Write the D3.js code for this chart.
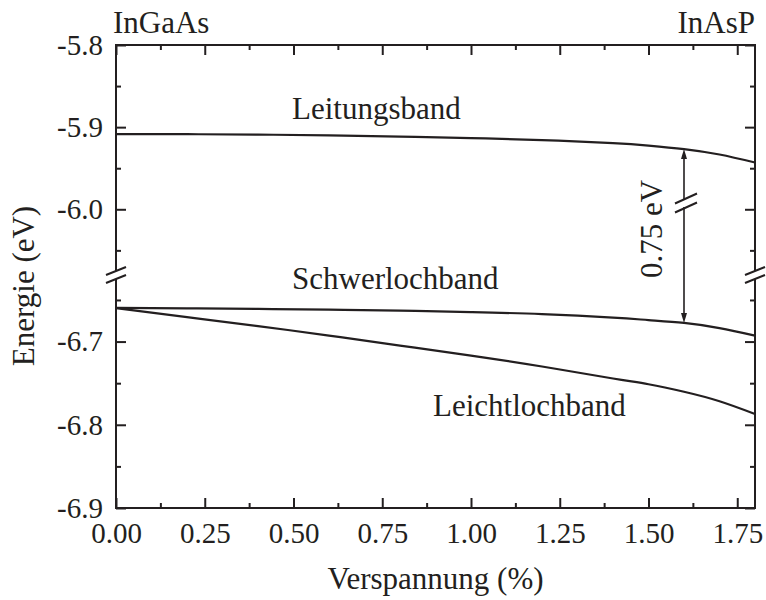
<!DOCTYPE html>
<html>
<head>
<meta charset="utf-8">
<script src="https://cdn.jsdelivr.net/npm/d3@7"></script>
<style>
  body { margin: 0; background: #fff; }
  text { font-family: "Liberation Serif", "Times New Roman", serif; fill: #231f20; }
</style>
</head>
<body>
<div id="chart"></div>
<script>
// Verspannung (%) and band energies (eV)
var strain = [0, 0.2, 0.4, 0.6, 0.8, 1.0, 1.2, 1.4, 1.5, 1.6, 1.7, 1.8];
var leitungsband = [-5.9085, -5.9086, -5.9091, -5.9101, -5.9115, -5.9133, -5.9158, -5.9194, -5.9224, -5.9267, -5.9333, -5.943];
var schwerlochband = [-6.6596, -6.6600, -6.6608, -6.6616, -6.6628, -6.6646, -6.6670, -6.6712, -6.6742, -6.6776, -6.6838, -6.6928];
var leichtlochband = [-6.6598, -6.6706, -6.6814, -6.6928, -6.7048, -6.7168, -6.7300, -6.7444, -6.7513, -6.7603, -6.7717, -6.7870];

var xMajor = [0, 0.25, 0.5, 0.75, 1.0, 1.25, 1.5, 1.75];
var xMinor = [0.125, 0.375, 0.625, 0.875, 1.125, 1.375, 1.625];
var yTopMajor = [-5.8, -5.9, -6.0];
var yTopMinor = [-5.85, -5.95, -6.05];
var yBotMajor = [-6.7, -6.8, -6.9];
var yBotMinor = [-6.65, -6.75, -6.85];

var gapAt = 1.6;          // position of the 0.75 eV arrow
var gapLabel = "0.75 eV";

var width = 766, height = 600;
var pLeft = 116, pRight = 755, pTop = 45, pBottom = 508, breakY = 275;
var ink = "#231f20";

var svg = d3.select("#chart").append("svg")
    .attr("width", width)
    .attr("height", height);

var x = d3.scaleLinear().domain([0, 1.8]).range([pLeft, pRight]);
var yTop = d3.scaleLinear().domain([-6.08, -5.8]).range([breakY, pTop]);
var yBot = d3.scaleLinear().domain([-6.9, -6.62]).range([pBottom, breakY]);

function styleAxis(g) {
    g.select(".domain").remove();
    g.selectAll(".tick line").attr("stroke", ink).attr("stroke-width", 2);
    g.selectAll(".tick text")
        .style("font-size", "29px")
        .style("fill", ink);
}

// x axes (bottom with labels, top mirrored)
svg.append("g")
    .attr("transform", "translate(0," + pBottom + ")")
    .call(d3.axisBottom(x).tickValues(xMajor).tickSize(-10).tickPadding(14)
        .tickFormat(d3.format(".2f")))
    .call(styleAxis);
svg.append("g")
    .attr("transform", "translate(0," + pBottom + ")")
    .call(d3.axisBottom(x).tickValues(xMinor).tickSize(-5).tickFormat(""))
    .call(styleAxis);
svg.append("g")
    .attr("transform", "translate(0," + pTop + ")")
    .call(d3.axisTop(x).tickValues(xMajor).tickSize(-10).tickFormat(""))
    .call(styleAxis);
svg.append("g")
    .attr("transform", "translate(0," + pTop + ")")
    .call(d3.axisTop(x).tickValues(xMinor).tickSize(-5).tickFormat(""))
    .call(styleAxis);

// y axes, two segments each side
[[yTop, yTopMajor, yTopMinor], [yBot, yBotMajor, yBotMinor]].forEach(function(s) {
    svg.append("g")
        .attr("transform", "translate(" + pLeft + ",0)")
        .call(d3.axisLeft(s[0]).tickValues(s[1]).tickSize(-10).tickPadding(13)
            .tickFormat(d3.format(".1f")))
        .call(styleAxis);
    svg.append("g")
        .attr("transform", "translate(" + pLeft + ",0)")
        .call(d3.axisLeft(s[0]).tickValues(s[2]).tickSize(-5).tickFormat(""))
        .call(styleAxis);
    svg.append("g")
        .attr("transform", "translate(" + pRight + ",0)")
        .call(d3.axisRight(s[0]).tickValues(s[1]).tickSize(-10).tickFormat(""))
        .call(styleAxis);
    svg.append("g")
        .attr("transform", "translate(" + pRight + ",0)")
        .call(d3.axisRight(s[0]).tickValues(s[2]).tickSize(-5).tickFormat(""))
        .call(styleAxis);
});
// d3 prints "-5.8" with a unicode minus; the figure uses a plain hyphen
svg.selectAll(".tick text").text(function() { return this.textContent.replace("\u2212", "-"); });

// frame lines with the break gap on both sides
var frame = svg.append("g").attr("stroke", ink).attr("stroke-width", 2).attr("fill", "none");
frame.append("line").attr("x1", pLeft - 1).attr("x2", pRight + 1).attr("y1", pTop).attr("y2", pTop);
frame.append("line").attr("x1", pLeft - 1).attr("x2", pRight + 1).attr("y1", pBottom).attr("y2", pBottom);
[pLeft, pRight].forEach(function(ax) {
    frame.append("line").attr("x1", ax).attr("x2", ax).attr("y1", pTop).attr("y2", breakY - 4);
    frame.append("line").attr("x1", ax).attr("x2", ax).attr("y1", breakY + 4).attr("y2", pBottom);
});

function slashes(g, cx, cy, dx, dy, sep) {
    [cy - sep / 2, cy + sep / 2].forEach(function(c) {
        g.append("line")
            .attr("x1", cx - dx).attr("y1", c + dy)
            .attr("x2", cx + dx).attr("y2", c - dy)
            .attr("stroke", ink).attr("stroke-width", 2);
    });
}
slashes(svg, pLeft, breakY, 10, 4, 8);
slashes(svg, pRight, breakY, 10, 4, 8);

// curves
var lineTop = d3.line()
    .x(function(d, i) { return x(strain[i]); })
    .y(function(d) { return yTop(d); })
    .curve(d3.curveNatural);
var lineBot = d3.line()
    .x(function(d, i) { return x(strain[i]); })
    .y(function(d) { return yBot(d); })
    .curve(d3.curveNatural);

svg.append("path").datum(leitungsband)
    .attr("d", lineTop).attr("fill", "none").attr("stroke", ink).attr("stroke-width", 2.2);
svg.append("path").datum(schwerlochband)
    .attr("d", lineBot).attr("fill", "none").attr("stroke", ink).attr("stroke-width", 2.2);
svg.append("path").datum(leichtlochband)
    .attr("d", lineBot).attr("fill", "none").attr("stroke", ink).attr("stroke-width", 2.2);

// gap arrow
var gi = strain.indexOf(gapAt);
var ax = x(gapAt),
    ay1 = yTop(leitungsband[gi]),
    ay2 = yBot(schwerlochband[gi]),
    cut = 203;
svg.append("line").attr("x1", ax).attr("x2", ax).attr("y1", ay1 + 8).attr("y2", cut - 4)
    .attr("stroke", ink).attr("stroke-width", 1.6);
svg.append("line").attr("x1", ax).attr("x2", ax).attr("y1", cut + 4).attr("y2", ay2 - 8)
    .attr("stroke", ink).attr("stroke-width", 1.6);
svg.append("path")
    .attr("d", "M" + ax + "," + ay1 + "L" + (ax - 3) + "," + (ay1 + 10) + "L" + (ax + 3) + "," + (ay1 + 10) + "Z")
    .attr("fill", ink);
svg.append("path")
    .attr("d", "M" + ax + "," + ay2 + "L" + (ax - 3) + "," + (ay2 - 10) + "L" + (ax + 3) + "," + (ay2 - 10) + "Z")
    .attr("fill", ink);
slashes(svg, ax + 2, cut, 11, 5, 9);

svg.append("text")
    .attr("transform", "translate(662,229) rotate(-90)")
    .attr("text-anchor", "middle")
    .style("font-size", "31px")
    .text(gapLabel);

// band labels
var labels = [
    { t: "Leitungsband", x: 292, y: 119 },
    { t: "Schwerlochband", x: 292, y: 289 },
    { t: "Leichtlochband", x: 433, y: 416 }
];
svg.selectAll(".band-label")
    .data(labels)
    .enter().append("text")
    .attr("class", "band-label")
    .attr("x", function(d) { return d.x; })
    .attr("y", function(d) { return d.y; })
    .style("font-size", "31px")
    .text(function(d) { return d.t; });

// material labels
svg.append("text").attr("x", 113).attr("y", 33).style("font-size", "31px").text("InGaAs");
svg.append("text").attr("x", 755).attr("y", 33).attr("text-anchor", "end").style("font-size", "31px").text("InAsP");

// axis titles
svg.append("text")
    .attr("x", (pLeft + pRight) / 2)
    .attr("y", 589)
    .attr("text-anchor", "middle")
    .style("font-size", "31px")
    .text("Verspannung (%)");
svg.append("text")
    .attr("transform", "translate(34," + 286 + ") rotate(-90)")
    .attr("text-anchor", "middle")
    .style("font-size", "31px")
    .text("Energie (eV)");
</script>
</body>
</html>
